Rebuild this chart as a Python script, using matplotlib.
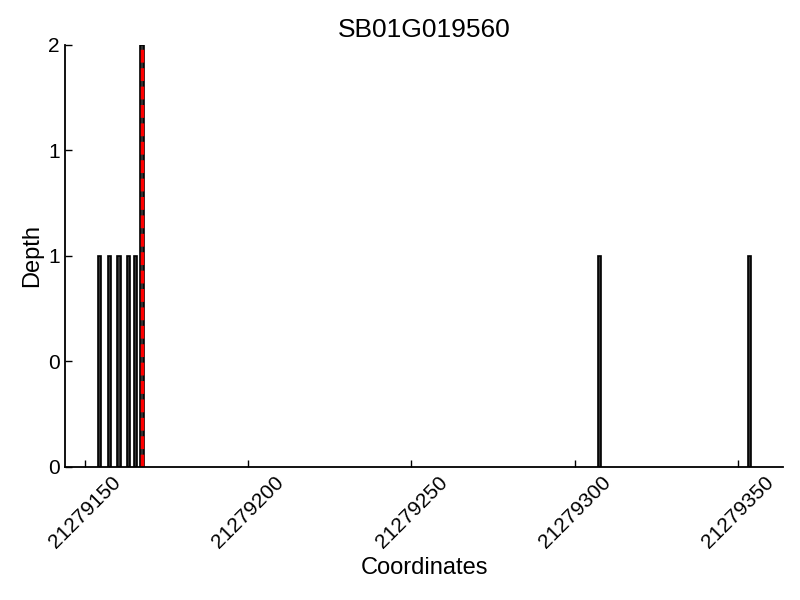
import matplotlib
matplotlib.use("Agg")
import matplotlib.pyplot as plt
from matplotlib.ticker import FormatStrFormatter

plt.rcParams['font.family'] = ['Liberation Sans', 'DejaVu Sans']

# positions (bp) and read depth
coords = [21279154, 21279157, 21279160, 21279163, 21279165, 21279167, 21279307, 21279353]
depth = [1, 1, 1, 1, 1, 2, 1, 1]
marker_pos = 21279167.5
gene = "SB01G019560"

fig = plt.figure(figsize=(8, 6), dpi=100)
ax = fig.add_axes([0.081, 0.222, 0.898, 0.703])

ax.bar(coords, depth, width=1, align='edge', color='#333333', edgecolor='black', linewidth=1.2)
ax.axvline(marker_pos, color='red', linestyle='--', linewidth=2.5)

ax.set_xlim(21279143.9, 21279363.8)
ax.set_ylim(0, 2)
ax.set_xticks([21279150, 21279200, 21279250, 21279300, 21279350])
ax.set_yticks([0, 0.5, 1, 1.5, 2])
ax.yaxis.set_major_formatter(FormatStrFormatter('%d'))
ax.xaxis.set_major_formatter(FormatStrFormatter('%d'))
plt.setp(ax.get_xticklabels(), rotation=45, ha='center')

ax.spines['top'].set_visible(False)
ax.spines['right'].set_visible(False)
for s in ('left', 'bottom'):
    ax.spines[s].set_linewidth(1.3)
ax.tick_params(direction='in', labelsize=15, length=5, width=1)
ax.tick_params(axis='x', pad=4)

ax.set_title(gene, fontsize=19)
ax.set_xlabel("Coordinates", fontsize=17)
ax.set_ylabel("Depth", fontsize=17)

fig.savefig("out.png")
